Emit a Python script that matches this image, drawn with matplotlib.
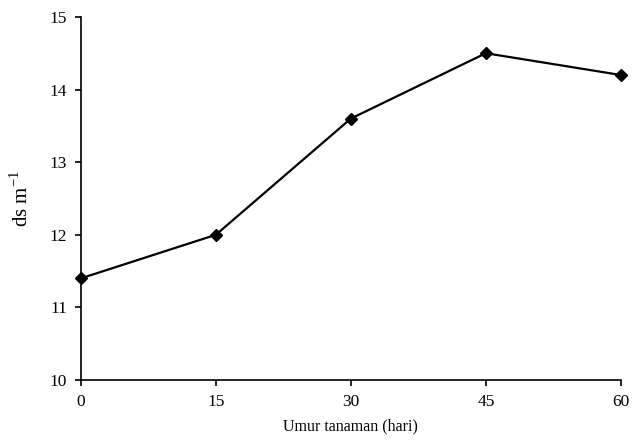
import matplotlib
matplotlib.use('Agg')
import matplotlib.pyplot as plt

umur = [0, 15, 30, 45, 60]
ds = [11.4, 12.0, 13.6, 14.5, 14.2]

plt.rcParams['font.family'] = 'Liberation Serif'

fig = plt.figure(figsize=(6.42, 4.45), dpi=100)
ax = fig.add_axes([0.126, 0.146, 0.841, 0.816])

ax.plot(umur, ds, color='black', lw=1.6, marker='D', ms=6.5, clip_on=False,
        zorder=3)

ax.set_xlim(0, 60)
ax.set_ylim(10, 15)
ax.set_xticks(umur)
ax.set_yticks([10, 11, 12, 13, 14, 15])
ax.tick_params(labelsize=12.5, direction='out', length=4, width=1.2, pad=6)
ax.spines['top'].set_visible(False)
ax.spines['right'].set_visible(False)
ax.spines['left'].set_linewidth(1.2)
ax.spines['bottom'].set_linewidth(1.2)

ax.set_xlabel('Umur tanaman (hari)', fontsize=11.5, labelpad=6)
ax.set_ylabel('ds m$^{\\mathregular{-1}}$', fontsize=15, labelpad=12)

fig.savefig('out.png', dpi=100)
